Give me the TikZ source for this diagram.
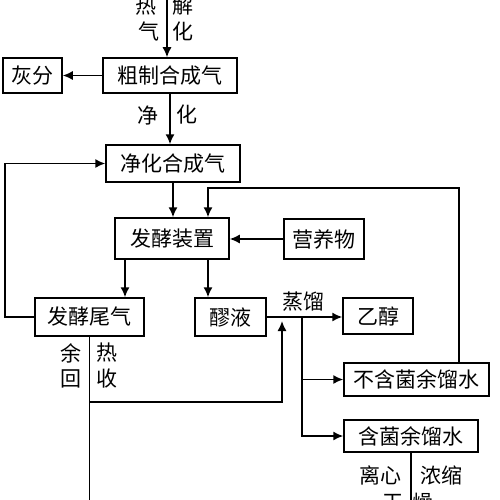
\documentclass[tikz,border=0pt]{standalone}
\usepackage{fontspec}
\setmainfont{Noto Sans CJK SC}
\usetikzlibrary{arrows.meta}

\begin{document}
\begin{tikzpicture}[x=1pt,y=-1pt,
  box/.style={draw, line width=1.5pt, inner sep=0pt, font=\fontsize{21}{24}\selectfont},
  lab/.style={inner sep=0pt, font=\fontsize{21}{24}\selectfont},
  pipe/.style={line width=1.5pt},
  flow/.style={line width=1.5pt, -{Latex[length=10pt,width=9pt]}}]
  \useasboundingbox (0,0) rectangle (500,500);
  \clip (0,0) rectangle (500,500);

  \node[box, minimum width=59pt, minimum height=35pt] (huifen) at (32.5,75.5) {灰分};
  \node[box, minimum width=134pt, minimum height=35pt] (cuzhi) at (170,75.5) {粗制合成气};
  \node[box, minimum width=134pt, minimum height=37pt] (jinghua) at (173,163.5) {净化合成气};
  \node[box, minimum width=114pt, minimum height=41pt] (fajiao) at (172,238.5) {发酵装置};
  \node[box, minimum width=80pt, minimum height=40pt] (yingyang) at (324,239) {营养物};
  \node[box, minimum width=109pt, minimum height=38pt] (weiqi) at (89.5,317) {发酵尾气};
  \node[box, minimum width=71pt, minimum height=38pt] (laoye) at (230.5,317) {醪液};
  \node[box, minimum width=70pt, minimum height=36pt] (yichun) at (378,316) {乙醇};
  \node[box, minimum width=145pt, minimum height=33pt] (bujun) at (416.5,379.5) {不含菌余馏水};
  \node[box, minimum width=134pt, minimum height=32pt] (hanjun) at (411,436) {含菌余馏水};

  % labels beside the lines
  \node[lab] (re) at (146,6) {热};
  \node[lab] (qi) at (149,31) {气};
  \node[lab] (jie) at (183,6) {解};
  \node[lab] (hua) at (183,32) {化};
  \node[lab] (jing) at (148,115) {净};
  \node[lab] (hua2) at (187,115) {化};
  \node[lab] (yu) at (71,353) {余};
  \node[lab] (hui) at (71,379) {回};
  \node[lab] (re2) at (107,353) {热};
  \node[lab] (shou) at (107,379) {收};
  \node[lab] (zhengliu) at (303,302) {蒸馏};
  \node[lab] (lixin) at (380,475) {离心};
  \node[lab] (nongsuo) at (441,475) {浓缩};
  \node[lab] (gan) at (393,503) {干};
  \node[lab] (zao) at (423,503) {燥};

  \coordinate (top) at (167,-10);
  \coordinate (bot) at (0,520);
  \coordinate (lf) at (5,163);
  \coordinate (rf) at (459,188);
  \coordinate (ra) at (208,188);
  \coordinate (la) at (125,0);
  \coordinate (sp) at (302,317);
  \coordinate (wh) at (282,402);

  \draw[flow] (top) -- (top |- cuzhi.north);
  \draw[flow] (cuzhi.west) -- (huifen.east);
  \draw[flow] (cuzhi.south) -- (cuzhi.south |- jinghua.north);
  \draw[flow] (jinghua.south) -- (jinghua.south |- fajiao.north);
  \draw[flow] (yingyang.west) -- (yingyang.west -| fajiao.east);
  \draw[flow] (la |- fajiao.south) -- (la |- weiqi.north);
  \draw[flow] (ra |- fajiao.south) -- (ra |- laoye.north);

  % recycled gas and water
  \draw[flow] (weiqi.west) -- (weiqi.west -| lf) -- (lf |- jinghua.west) -- (jinghua.west);
  \draw[flow] (rf |- bujun.north) -- (rf) -- (ra) -- (ra |- fajiao.north);

  % distillation
  \draw[flow] (laoye.east) -- (laoye.east -| yichun.west);
  \draw[flow] (sp) -- (sp |- bujun.west) -- (bujun.west);
  \draw[flow] (sp |- bujun.west) -- (sp |- hanjun.west) -- (hanjun.west);

  % waste heat
  \draw[pipe] (weiqi.south) -- (weiqi.south |- bot);
  \draw[flow, shorten >=4pt] (weiqi.south |- wh) -- (wh) -- (wh |- laoye.east);
  \draw[pipe] (hanjun.south) -- (hanjun.south |- bot);
\end{tikzpicture}
\end{document}
